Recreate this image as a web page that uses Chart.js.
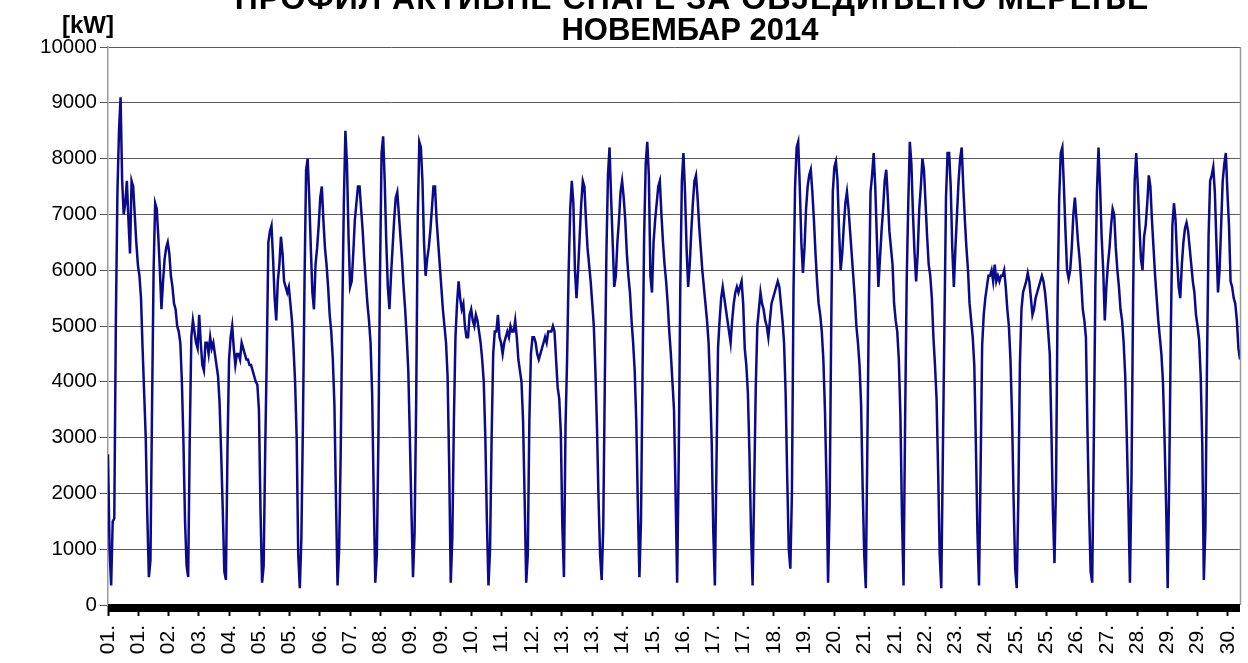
<!DOCTYPE html>
<html><head><meta charset="utf-8">
<script src="https://cdn.jsdelivr.net/npm/chart.js@4.4.1/dist/chart.umd.min.js"></script>
<style>html,body{margin:0;padding:0;background:#fff;}canvas{display:block;}</style>
</head><body>
<canvas id="c" width="1248" height="663"></canvas>
<script>
const titleLines = ["ПРОФИЛ АКТИВНЕ СНАГЕ ЗА ОБЈЕДИЊЕНО МЕРЕЊЕ", "НОВЕМБАР 2014"];
const unitLabel = "[kW]";
const yTickValues = [0,1000,2000,3000,4000,5000,6000,7000,8000,9000,10000];
const xTickLabels = ["01.","01.","02.","03.","04.","05.","05.","06.","07.","08.","09.","09.","10.","11.","12.","13.","13.","14.","15.","16.","17.","17.","18.","19.","20.","21.","21.","22.","23.","24.","25.","25.","26.","27.","28.","29.","29.","30."];
const xTickHours = [0,19.25,38.5,57.75,77,96.25,115.5,134.75,154,173.25,192.5,211.75,231,250.25,269.5,288.75,308,327.25,346.5,365.75,385,404.25,423.5,442.75,462,481.25,500.5,519.75,539,558.25,577.5,596.75,616,635.25,654.5,673.75,693,712.25];

// hourly load [kW], one array per day (hours 0..23)
const d01 = [2700,1000,350,1500,1550,5100,7400,8500,9100,7600,7000,7200,7600,6900,6300,7600,7500,7000,6500,6100,5900,5500,4600,3800];
const d02 = [3000,1600,500,800,3500,6000,7200,7100,6600,6000,5300,5800,6200,6400,6500,6300,5900,5700,5400,5300,5000,4900,4700,4000];
const d03 = [2900,1500,700,500,3000,4800,5100,4900,4700,4600,5200,4700,4300,4200,4700,4700,4500,4800,4600,4700,4500,4300,4100,3600];
const d04 = [2700,1700,600,450,2800,4400,4800,5000,4600,4300,4500,4500,4400,4700,4600,4500,4400,4400,4300,4300,4200,4100,4000,3950];
const d05 = [3500,1700,400,700,2800,4500,6500,6700,6800,6200,5500,5100,5800,6100,6600,6300,5800,5700,5600,5700,5400,5100,4600,4000];
const d06 = [3000,900,300,1200,3300,5800,7800,8000,7300,6400,5600,5300,6100,6400,6800,7300,7500,6900,6400,6100,5700,5200,4900,4400];
const d07 = [3600,1900,350,1000,2700,5200,7200,8500,7900,6600,5700,5800,6300,6900,7200,7500,7500,7100,6700,6200,5800,5400,5100,4700];
const d08 = [3800,2000,400,900,3000,5900,8100,8400,7600,6500,5700,5300,5900,6400,6900,7300,7400,7000,6600,6200,5700,5300,4800,4200];
const d09 = [3000,1700,500,1300,3600,6900,8300,8200,7600,6500,5900,6200,6400,6700,7100,7500,7500,6900,6500,6100,5700,5300,5000,4700];
const d10 = [4100,2500,400,1200,3300,4800,5400,5800,5500,5300,5400,5000,4800,4800,5200,5300,5100,5000,5200,5100,4900,4700,4400,4000];
const d11 = [3000,1500,350,1000,3000,4500,4900,4900,5200,4800,4700,4500,4700,4800,4900,4800,5000,4900,4900,5100,4800,4400,4200,4000];
const d12 = [3300,1900,400,900,3300,4500,4800,4800,4700,4500,4400,4500,4600,4700,4800,4700,4900,4900,4900,5000,4900,4400,3900,3700];
const d13 = [3100,1400,500,3200,4400,6000,7100,7600,7200,6000,5500,6000,6600,7200,7600,7500,6900,6400,6100,5800,5400,5000,4200,3200];
const d14 = [1900,900,450,1400,4000,6300,7700,8200,7300,6500,5700,5900,6500,6900,7400,7600,7300,6900,6300,5900,5600,5100,4700,4200];
const d15 = [3300,1800,500,1500,4200,6600,7900,8300,7700,5900,5600,6500,6900,7200,7500,7600,7000,6500,6100,5800,5400,4900,4500,4000];
const d16 = [3500,2000,400,2600,5700,7600,8100,7400,6400,5700,6100,6700,7200,7600,7700,7300,6800,6400,6000,5700,5400,5100,4700,3900];
const d17 = [2900,1300,350,2500,4600,5100,5500,5700,5500,5300,5100,4900,4700,5100,5400,5600,5700,5600,5700,5800,5400,4600,4300,3800];
const d18 = [2700,1300,350,2100,3900,5000,5300,5600,5400,5300,5100,5000,4800,5100,5400,5500,5600,5700,5800,5700,5400,5100,4700,3800];
const d19 = [2300,1000,650,2000,5600,7500,8200,8300,7500,6500,5950,6400,7100,7500,7700,7800,7400,6900,6300,5800,5400,5200,4900,4400];
const d20 = [3500,2200,400,1800,5000,7400,7850,7950,7600,6700,6000,6300,6800,7200,7400,7100,6700,6300,5900,5500,5000,4700,4300,3600];
const d21 = [2100,900,300,2900,5500,7400,7700,8100,7500,6600,5700,6200,6700,7100,7600,7800,7300,6700,6400,6100,5400,5100,4900,4400];
const d22 = [3400,1600,350,3300,5800,7200,8300,7900,7000,6300,5800,6300,7100,7500,8000,7800,7200,6600,6100,5900,5500,4800,4300,3700];
const d23 = [2400,900,300,2700,5000,7300,8100,8100,7500,6400,5700,6400,7000,7600,8000,8200,7500,6900,6400,6000,5400,5100,4800,4300];
const d24 = [2900,1300,350,2400,4650,5200,5500,5700,5900,5900,6000,5800,6100,5800,5900,5800,5900,5900,6000,5700,5300,5000,4400,3400];
const d25 = [1900,650,300,1900,4300,5300,5600,5700,5800,5950,5800,5500,5200,5300,5500,5600,5700,5800,5900,5800,5600,5300,4900,4500];
const d26 = [3200,1700,750,2200,5500,7300,8100,8200,7500,6700,6000,5850,6000,6400,7000,7300,6900,6500,6200,5800,5300,5100,4800,3100];
const d27 = [1700,600,400,2900,5700,7400,8200,7500,6600,6000,5100,5700,6100,6400,6800,7100,7000,6400,6000,5700,5300,5100,4700,4100];
const d28 = [3000,1800,400,2300,5500,7600,8100,7500,6800,6200,6000,6600,6800,7200,7700,7500,6900,6400,5900,5500,5100,4800,4500,4000];
const d29 = [3000,1800,300,2300,4900,6800,7200,6900,6200,5700,5500,6100,6500,6750,6850,6700,6400,6100,5800,5600,5200,5000,4750,4100];
const d30 = [2900,450,1400,4300,6600,7600,7700,7850,7400,6500,5600,6000,6800,7600,7900,8100,7400,6800,5800,5700,5500,5400,5100,4600];
const lastPoint = [4400];

const loadKW = [].concat(d01,d02,d03,d04,d05,d06,d07,d08,d09,d10,d11,d12,d13,d14,d15,d16,d17,d18,d19,d20,d21,d22,d23,d24,d25,d26,d27,d28,d29,d30,lastPoint);
const points = loadKW.map((v, i) => ({x: i, y: v}));

const FONT = "'Liberation Sans', Arial, sans-serif";

const decor = {
  id: 'decor',
  afterDraw(chart) {
    const {ctx, chartArea: a} = chart;
    ctx.save();
    // right frame line
    ctx.strokeStyle = '#9a9a9a';
    ctx.lineWidth = 1.5;
    ctx.beginPath();
    ctx.moveTo(a.right + 0.5, a.top);
    ctx.lineTo(a.right + 0.5, a.bottom);
    ctx.stroke();
    // thick black band under plot
    ctx.fillStyle = '#000';
    ctx.fillRect(a.left, a.bottom - 1, a.right - a.left, 8);
    // titles
    ctx.fillStyle = '#000';
    ctx.textAlign = 'center';
    ctx.textBaseline = 'alphabetic';
    ctx.font = "bold 32px " + FONT;
    try { ctx.letterSpacing = '1px'; } catch (e) {}
    ctx.fillText(titleLines[0], 692, 9);
    try { ctx.letterSpacing = '0px'; } catch (e) {}
    ctx.font = "bold 31px " + FONT;
    ctx.fillText(titleLines[1], 690, 40);
    ctx.textAlign = 'left';
    ctx.font = "bold 24px " + FONT;
    ctx.fillText(unitLabel, 62, 33);
    ctx.restore();
  }
};

new Chart(document.getElementById('c'), {
  type: 'line',
  data: {
    datasets: [{
      data: points,
      borderColor: '#0a0a8a',
      borderWidth: 2.5,
      pointRadius: 0,
      tension: 0,
      fill: false
    }]
  },
  options: {
    responsive: false,
    animation: false,
    events: [],
    layout: {padding: {top: 47, left: 0, right: 8, bottom: 0}},
    plugins: {legend: {display: false}, title: {display: false}, tooltip: {enabled: false}},
    scales: {
      x: {
        type: 'linear',
        min: 0,
        max: 720,
        afterBuildTicks: s => { s.ticks = xTickHours.map(v => ({value: v})); },
        afterFit: s => { s.height = 58; s.paddingLeft = 0; s.paddingRight = 0; },
        grid: {drawOnChartArea: false, drawTicks: true, tickLength: 11, tickWidth: 2, tickColor: '#000'},
        border: {display: false},
        ticks: {
          autoSkip: false,
          maxRotation: 90,
          minRotation: 90,
          padding: 9,
          color: '#000',
          font: {family: FONT, size: 21},
          callback: (v, i) => xTickLabels[i]
        }
      },
      y: {
        min: 0,
        max: 10000,
        afterBuildTicks: s => { s.ticks = yTickValues.map(v => ({value: v})); },
        afterFit: s => { s.width = 108; s.paddingTop = 0; s.paddingBottom = 0; },
        grid: {color: '#5a5a5a', lineWidth: 1, tickLength: 8, tickColor: '#555'},
        border: {display: true, color: '#9a9a9a', width: 1.5},
        ticks: {
          padding: 3,
          color: '#000',
          font: {family: FONT, size: 20.5},
          callback: v => String(v)
        }
      }
    }
  },
  plugins: [decor]
});
</script>
</body></html>
